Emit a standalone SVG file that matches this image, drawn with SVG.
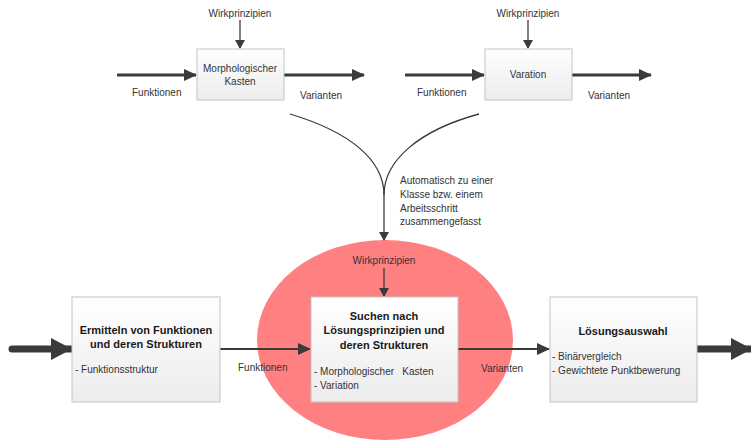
<svg xmlns="http://www.w3.org/2000/svg" width="751" height="441" viewBox="0 0 751 441">
<style>
text{font-family:"Liberation Sans",Arial,sans-serif;font-size:10px;fill:#333}
.b{font-weight:bold;font-size:11px;fill:#1a1a1a}
.c{text-anchor:middle}
.box{fill:url(#g);stroke:#c4c4c4;stroke-width:1}
.thin{stroke:#3a3a3a;stroke-width:1.3;fill:none}
.med{stroke:#3a3a3a;stroke-width:2;fill:none}
.thk{stroke:#3a3a3a;stroke-width:3;fill:none}
.big{stroke:#3a3a3a;stroke-width:7;fill:none}
</style>
<defs>
<linearGradient id="g" x1="0" y1="0" x2="0" y2="1">
<stop offset="0" stop-color="#ffffff"/>
<stop offset="1" stop-color="#ececec"/>
</linearGradient>
<marker id="ah" markerUnits="userSpaceOnUse" markerWidth="10" markerHeight="10" refX="8" refY="5" orient="auto">
<path d="M0,0 L9,5 L0,10 Z" fill="#3a3a3a"/>
</marker>
<marker id="am" markerUnits="userSpaceOnUse" markerWidth="14" markerHeight="14" refX="12" refY="7" orient="auto">
<path d="M0,1 L13,7 L0,13 Z" fill="#3a3a3a"/>
</marker>
<marker id="ab" markerUnits="userSpaceOnUse" markerWidth="22" markerHeight="24" refX="20" refY="11" orient="auto">
<path d="M0,0 L21,11 L0,22 Z" fill="#3a3a3a"/>
</marker>
</defs>

<g id="ellipse-bg">
<ellipse cx="385" cy="340" rx="128" ry="100" fill="#ff8080"/>
</g>

<g id="connectors">
<line class="thin" x1="240" y1="20" x2="240" y2="48" marker-end="url(#ah)"/>
<line class="thk" x1="117" y1="75" x2="196" y2="75" marker-end="url(#am)"/>
<line class="thk" x1="284" y1="75" x2="364" y2="75" marker-end="url(#am)"/>
<line class="thin" x1="528" y1="20" x2="528" y2="48" marker-end="url(#ah)"/>
<line class="thk" x1="405" y1="75" x2="484" y2="75" marker-end="url(#am)"/>
<line class="thk" x1="572" y1="75" x2="651" y2="75" marker-end="url(#am)"/>
<path class="thin" d="M290,114 C350,132 384,160 384,195"/>
<path class="thin" d="M479,114 C420,130 384,160 384,195"/>
<line class="thin" x1="384" y1="195" x2="384" y2="240" marker-end="url(#ah)"/>
<line class="thin" x1="384" y1="268" x2="384" y2="296" marker-end="url(#ah)"/>
<path class="big" d="M12,349 L71,349" stroke-linecap="round" marker-end="url(#ab)"/>
<line class="med" x1="220" y1="349" x2="310" y2="349" marker-end="url(#am)"/>
<line class="med" x1="458" y1="349" x2="549" y2="349" marker-end="url(#am)"/>
<line class="big" x1="697" y1="349" x2="751" y2="349" marker-end="url(#ab)"/>
</g>

<g id="top-morph">
<text class="c" x="240" y="17">Wirkprinzipien</text>
<rect class="box" x="197" y="49" width="87" height="51"/>
<text class="c" x="240" y="72">Morphologischer</text>
<text class="c" x="240" y="85">Kasten</text>
<text x="132" y="96">Funktionen</text>
<text x="300" y="99">Varianten</text>
</g>

<g id="top-variation">
<text class="c" x="528" y="17">Wirkprinzipien</text>
<rect class="box" x="485" y="49" width="87" height="51"/>
<text class="c" x="528" y="78">Varation</text>
<text x="417" y="96">Funktionen</text>
<text x="588" y="99">Varianten</text>
</g>

<g id="note">
<text x="400" y="184">Automatisch zu einer</text>
<text x="400" y="198">Klasse bzw. einem</text>
<text x="400" y="212">Arbeitsschritt</text>
<text x="400" y="225">zusammengefasst</text>
</g>

<g id="ermitteln">
<rect class="box" x="72" y="297" width="148" height="105"/>
<text class="b c" x="146" y="334">Ermitteln von Funktionen</text>
<text class="b c" x="146" y="348">und deren Strukturen</text>
<text x="75" y="373">- Funktionsstruktur</text>
</g>

<g id="suchen">
<text class="c" x="384" y="264">Wirkprinzipien</text>
<rect class="box" x="311" y="297" width="147" height="105"/>
<text class="b c" x="384" y="320">Suchen nach</text>
<text class="b c" x="384" y="334">Lösungsprinzipien und</text>
<text class="b c" x="384" y="349">deren Strukturen</text>
<text x="314" y="375" style="white-space:pre">- Morphologischer   Kasten</text>
<text x="314" y="389">- Variation</text>
<text x="238" y="371">Funktionen</text>
<text x="481" y="372">Varianten</text>
</g>

<g id="auswahl">
<rect class="box" x="550" y="297" width="147" height="105"/>
<text class="b c" x="623" y="335">Lösungsauswahl</text>
<text x="552" y="360">- Binärvergleich</text>
<text x="552" y="374">- Gewichtete Punktbewerung</text>
</g>
</svg>
